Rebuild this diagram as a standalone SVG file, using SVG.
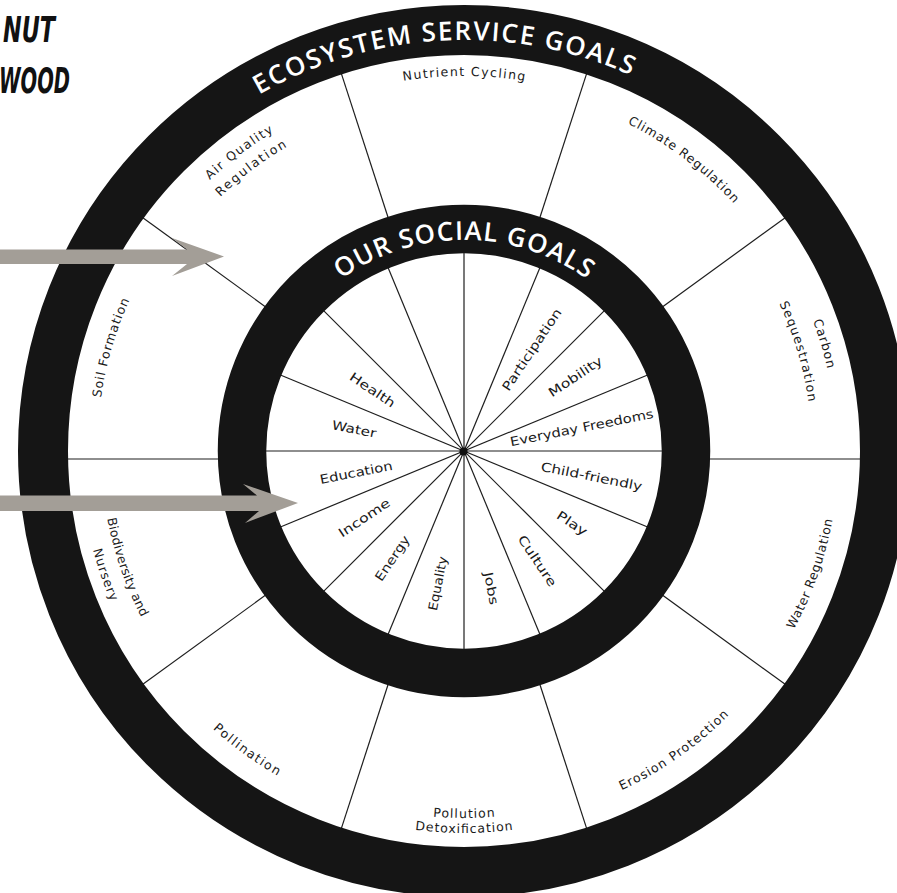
<svg xmlns="http://www.w3.org/2000/svg" width="897" height="893" viewBox="0 0 897 893">
<defs>
<style>
.ring{fill:none;stroke:#151515}
.spoke{stroke:#1e1e1e;stroke-width:1.2;fill:none}
.lbl{font-family:"DejaVu Sans","Liberation Sans",sans-serif;font-size:12.5px;fill:#1a1a1a;text-anchor:middle}
.rt{font-family:"Open Sans","Liberation Sans",sans-serif;font-size:26px;font-weight:600;fill:#ffffff;text-anchor:middle}
.title{font-family:"DejaVu Sans Condensed","Liberation Sans Narrow","Liberation Sans",sans-serif;font-size:36px;font-weight:bold;font-style:italic;fill:#111}
.arrow{fill:#a39e97}
</style>
<path id="p_eco" d="M97.8,264.4 A411,411 0 0 1 808.7,227.2"/>
<path id="p_soc" d="M265.7,378.8 A211,211 0 0 1 662.3,378.8"/>
<path id="p_nut" d="M139.2,263.5 A375,375 0 0 1 788.8,263.5"/>
<path id="p_cli" d="M321.0,114.1 A366,366 0 0 1 827.3,495.6"/>
<path id="p_air1" d="M95.3,496.3 A371.5,371.5 0 0 1 609.1,109.0"/>
<path id="p_air2" d="M114.6,493.9 A352,352 0 0 1 601.5,127.0"/>
<path id="p_car1" d="M550.3,88.6 A372.5,372.5 0 0 1 734.7,706.9"/>
<path id="p_car2" d="M544.6,112.5 A348,348 0 0 1 716.9,690.1"/>
<path id="p_wat" d="M532.3,819.7 A375,375 0 0 0 749.2,207.5"/>
<path id="p_ero" d="M305.9,790.0 A374,374 0 0 0 836.6,418.4"/>
<path id="p_pol1" d="M146.2,634.5 A367,367 0 0 0 781.8,634.5"/>
<path id="p_pol2" d="M133.2,642 A382,382 0 0 0 794.8,642"/>
<path id="p_pln" d="M91.6,411.9 A374.5,374.5 0 0 0 616.3,793.1"/>
<path id="p_bio1" d="M190.0,212.8 A363,363 0 0 0 394.7,807.3"/>
<path id="p_bio2" d="M174.2,199.1 A384,384 0 0 0 390.7,827.9"/>
<path id="p_soil" d="M198.7,704.6 A367,367 0 0 1 377.1,94.5"/>
</defs>
<rect width="897" height="893" fill="#ffffff"/>

<g id="title">
<text class="title" x="3" y="42" textLength="52" lengthAdjust="spacingAndGlyphs">NUT</text>
<text class="title" x="-1" y="93" textLength="71" lengthAdjust="spacingAndGlyphs">WOOD</text>
</g>

<g id="spokes">
<g id="social-spokes">
<line class="spoke" x1="664" y1="451" x2="264" y2="451"/>
<line class="spoke" x1="648.8" y1="374.5" x2="279.2" y2="527.5"/>
<line class="spoke" x1="605.4" y1="309.6" x2="322.6" y2="592.4"/>
<line class="spoke" x1="540.5" y1="266.2" x2="387.5" y2="635.8"/>
<line class="spoke" x1="464" y1="251" x2="464" y2="651"/>
<line class="spoke" x1="387.5" y1="266.2" x2="540.5" y2="635.8"/>
<line class="spoke" x1="322.6" y1="309.6" x2="605.4" y2="592.4"/>
<line class="spoke" x1="279.2" y1="374.5" x2="648.8" y2="527.5"/>
</g>
<g id="eco-spokes">
<line class="spoke" x1="658.2" y1="309.9" x2="787.6" y2="215.9"/>
<line class="spoke" x1="538.2" y1="222.7" x2="587.6" y2="70.6"/>
<line class="spoke" x1="389.8" y1="222.7" x2="340.4" y2="70.6"/>
<line class="spoke" x1="269.8" y1="309.9" x2="140.4" y2="215.9"/>
<line class="spoke" x1="269.8" y1="592.1" x2="140.4" y2="686.1"/>
<line class="spoke" x1="389.8" y1="679.3" x2="340.4" y2="831.4"/>
<line class="spoke" x1="538.2" y1="679.3" x2="587.6" y2="831.4"/>
<line class="spoke" x1="658.2" y1="592.1" x2="787.6" y2="686.1"/>
<line class="spoke" x1="60" y1="459" x2="225" y2="459"/>
<line class="spoke" x1="705" y1="459" x2="870" y2="459"/>
</g>
</g>

<g id="eco-ring">
<circle class="ring" cx="464" cy="451" r="421" stroke-width="50"/>
<text class="rt"><textPath href="#p_eco" startOffset="50%" textLength="386">ECOSYSTEM SERVICE GOALS</textPath></text>
</g>
<g id="social-ring">
<circle class="ring" cx="464" cy="451" r="222" stroke-width="48.5"/>
<text class="rt"><textPath href="#p_soc" startOffset="50%" textLength="262">OUR SOCIAL GOALS</textPath></text>
<circle cx="463.5" cy="451.5" r="4" fill="#111"/>
</g>

<g id="eco-labels">
<g id="nutrient-cycling"><text class="lbl"><textPath href="#p_nut" startOffset="50%" textLength="122">Nutrient Cycling</textPath></text></g>
<g id="climate-regulation"><text class="lbl"><textPath href="#p_cli" startOffset="50%" textLength="134">Climate Regulation</textPath></text></g>
<g id="air-quality"><text class="lbl"><textPath href="#p_air1" startOffset="50%" textLength="80">Air Quality</textPath></text><text class="lbl"><textPath href="#p_air2" startOffset="50%" textLength="84">Regulation</textPath></text></g>
<g id="carbon-sequestration"><text class="lbl"><textPath href="#p_car1" startOffset="50%" textLength="50">Carbon</textPath></text><text class="lbl"><textPath href="#p_car2" startOffset="50%" textLength="103">Sequestration</textPath></text></g>
<g id="water-regulation"><text class="lbl"><textPath href="#p_wat" startOffset="50%" textLength="117">Water Regulation</textPath></text></g>
<g id="erosion-protection"><text class="lbl"><textPath href="#p_ero" startOffset="50%" textLength="132">Erosion Protection</textPath></text></g>
<g id="pollution-detox"><text class="lbl"><textPath href="#p_pol1" startOffset="50%" textLength="62">Pollution</textPath></text><text class="lbl"><textPath href="#p_pol2" startOffset="50%" textLength="98">Detoxification</textPath></text></g>
<g id="pollination"><text class="lbl"><textPath href="#p_pln" startOffset="50%" textLength="80">Pollination</textPath></text></g>
<g id="biodiversity"><text class="lbl"><textPath href="#p_bio1" startOffset="50%" textLength="105">Biodiversity and</textPath></text><text class="lbl"><textPath href="#p_bio2" startOffset="50%" textLength="55">Nursery</textPath></text></g>
<g id="soil-formation"><text class="lbl"><textPath href="#p_soil" startOffset="50%" textLength="102">Soil Formation</textPath></text></g>
</g>

<g id="social-labels">
<g id="everyday-freedoms"><text class="lbl" transform="translate(581.7,427.6) rotate(-11.25)" dy="4.4" textLength="146" lengthAdjust="spacingAndGlyphs">Everyday Freedoms</text></g>
<g id="mobility"><text class="lbl" transform="translate(575.4,376.5) rotate(-33.75)" dy="4.4" textLength="62" lengthAdjust="spacingAndGlyphs">Mobility</text></g>
<g id="participation"><text class="lbl" transform="translate(531.8,349.6) rotate(-56.25)" dy="4.4" textLength="96" lengthAdjust="spacingAndGlyphs">Participation</text></g>
<g id="child-friendly"><text class="lbl" transform="translate(591.5,476.4) rotate(11.25)" dy="4.4" textLength="103" lengthAdjust="spacingAndGlyphs">Child-friendly</text></g>
<g id="play"><text class="lbl" transform="translate(572.1,523.2) rotate(33.75)" dy="4.4" textLength="34" lengthAdjust="spacingAndGlyphs">Play</text></g>
<g id="culture"><text class="lbl" transform="translate(537.3,560.8) rotate(56.25)" dy="4.4" textLength="59" lengthAdjust="spacingAndGlyphs">Culture</text></g>
<g id="jobs"><text class="lbl" transform="translate(491.3,588.3) rotate(78.75)" dy="4.4" textLength="33" lengthAdjust="spacingAndGlyphs">Jobs</text></g>
<g id="equality"><text class="lbl" transform="translate(437.7,583.4) rotate(-78.75)" dy="4.4" textLength="55" lengthAdjust="spacingAndGlyphs">Equality</text></g>
<g id="energy"><text class="lbl" transform="translate(392.3,558.3) rotate(-56.25)" dy="4.4" textLength="52" lengthAdjust="spacingAndGlyphs">Energy</text></g>
<g id="income"><text class="lbl" transform="translate(364.2,517.7) rotate(-33.75)" dy="4.4" textLength="59" lengthAdjust="spacingAndGlyphs">Income</text></g>
<g id="education"><text class="lbl" transform="translate(356.1,472.5) rotate(-11.25)" dy="4.4" textLength="74" lengthAdjust="spacingAndGlyphs">Education</text></g>
<g id="water"><text class="lbl" transform="translate(354.1,429.1) rotate(11.25)" dy="4.4" textLength="45" lengthAdjust="spacingAndGlyphs">Water</text></g>
<g id="health"><text class="lbl" transform="translate(372.5,389.9) rotate(33.75)" dy="4.4" textLength="52" lengthAdjust="spacingAndGlyphs">Health</text></g>
</g>

<g id="connectors">
<polygon class="arrow" points="0,249.5 187,249.5 172,238 224,256.5 172,276 187,264 0,264"/>
<polygon class="arrow" points="0,495.5 257,495.5 243,484 298,503 245,523 259,511 0,511"/>
</g>
</svg>
